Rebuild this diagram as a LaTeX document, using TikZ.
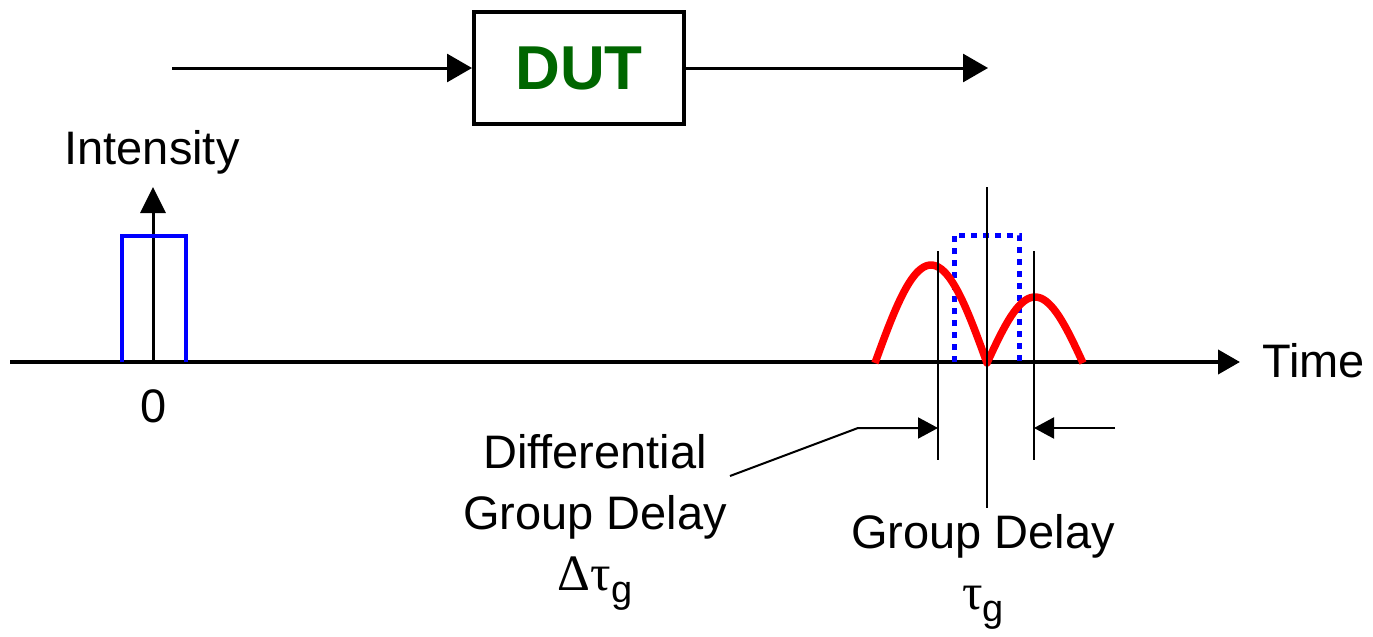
\documentclass[tikz,border=0pt]{standalone}
\usepackage{fontspec}
\setmainfont{Liberation Sans}
\newfontfamily\grk{Liberation Serif}
\usetikzlibrary{arrows.meta}
\definecolor{dutgreen}{RGB}{0,102,0}
\newcommand{\lblfont}{\fontsize{23.5}{30.5}\selectfont}
\newcommand{\grkfont}{\grk\fontsize{25.5}{30.5}\selectfont}
\newcommand{\subg}{\raisebox{-0.25em}{\fontsize{19}{19}\selectfont g}}
\begin{document}
\begin{tikzpicture}[x=0.5pt,y=-0.5pt,>={Triangle[length=12.5pt,width=14pt]},
  txt/.style={font=\lblfont,inner sep=0pt},
  thinline/.style={line width=1pt},
  dgdtip/.style={-{Triangle[length=10pt,width=10.5pt]}}]
\useasboundingbox (0,0) rectangle (1373,637);

\node[draw,line width=2pt,minimum width=105pt,minimum height=56pt,inner sep=0pt,
  font=\fontsize{31}{31}\selectfont\bfseries,text=dutgreen] (dut) at (579,68) {DUT};
\coordinate (src) at (172,68);
\coordinate (dst) at (988,68);
\draw[->,line width=1.5pt] (src)--(dut);
\draw[->,line width=1.5pt] (dut)--(dst);

\coordinate (O) at (153,362);
\coordinate (tstart) at (10,362);
\coordinate (tend) at (1240,362);
\coordinate (itop) at (153,187);
\draw[-{Triangle[length=11pt,width=12pt]},line width=2pt] (tstart)--(tend);
\draw[-{Triangle[length=13pt,width=12.5pt]},line width=1.5pt] (O)--(itop);
\node[txt,anchor=west] (time) at (1262,361) {Time};
\node[txt,anchor=base] (intensity) at (152,164) {Intensity};
\node[txt,anchor=base] (zero) at (154,422) {0};

\draw[blue,line width=2pt] (122,362)--(122,236)--(186,236)--(186,362);
\draw[blue,line width=2.5pt,dash pattern=on 3pt off 3pt] (954,362)--(954,235)--(1019,235)--(1019,362);
\draw[red,line width=3.75pt,line join=round]
  plot[domain=0:180,samples=40,smooth] ({875+\x/180*112},{363-98*sin(\x)})
  -- plot[domain=0:180,samples=40,smooth] ({987+\x/180*96},{363-66*sin(\x)});

\coordinate (lt) at (938,251); \coordinate (lb) at (938,460);
\coordinate (ct) at (987,187); \coordinate (cb) at (987,508);
\coordinate (rt) at (1034,251); \coordinate (rb) at (1034,460);
\draw[thinline] (lt)--(lb);
\draw[thinline] (ct)--(cb);
\draw[thinline] (rt)--(rb);

\coordinate (lead) at (730,476);
\coordinate (bend) at (858,428);
\coordinate (la) at (938,428);
\coordinate (rtail) at (1115,428);
\coordinate (ra) at (1034,428);
\draw[thinline,dgdtip] (lead)--(bend)--(la);
\draw[thinline,dgdtip] (rtail)--(ra);

\node[txt,align=center,anchor=north] (dgd) at (595,434) {Differential\\Group Delay\\{\grkfont Δτ}\subg};
\node[txt,align=center,anchor=north] (gd) at (983,514) {Group Delay\\{\grkfont τ}\subg};
\end{tikzpicture}
\end{document}
